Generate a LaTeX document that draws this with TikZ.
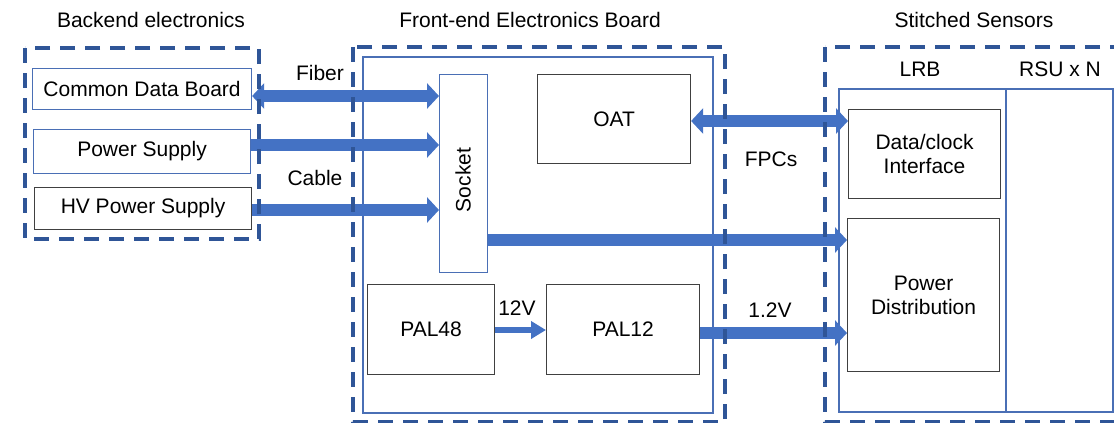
\documentclass[tikz,border=0pt]{standalone}
\usepackage{fontspec}
\setmainfont{Liberation Sans}
\usetikzlibrary{arrows.meta}
\definecolor{dashblue}{HTML}{2F5597}
\definecolor{arrblue}{HTML}{4472C4}
\definecolor{thinblue}{HTML}{4A6FB5}
\definecolor{darkline}{HTML}{404040}
\tikzset{
  lbl/.style={font=\fontsize{21}{25}\selectfont, text=black, inner sep=0pt},
  bluebox/.style={draw=thinblue, line width=1.1pt, anchor=north west, inner sep=0pt, font=\fontsize{21}{25}\selectfont, align=center},
  darkbox/.style={draw=darkline, line width=1.1pt, anchor=north west, inner sep=0pt, font=\fontsize{21}{25}\selectfont, align=center},
  group/.style={draw=dashblue, line width=4pt, dash pattern=on 15pt off 10pt},
  bigarrow/.style={draw=arrblue, line width=12pt, -{Triangle[length=12pt,width=25pt]}},
  bigdouble/.style={draw=arrblue, line width=12pt, {Triangle[length=12pt,width=25pt]}-{Triangle[length=12pt,width=25pt]}},
  smallarrow/.style={draw=arrblue, line width=6pt, -{Triangle[length=15pt,width=17pt]}},
}
\begin{document}
\begin{tikzpicture}[x=1pt,y=-1pt]
\useasboundingbox (0,0) rectangle (1114,423);
\clip (0,0) rectangle (1114,423);
% titles
\node[lbl] (tback) at (151,20) {Backend electronics};
\node[lbl] (tfront) at (530,20) {Front-end Electronics Board};
\node[lbl] (tstitch) at (974,20) {Stitched Sensors};
% inner board and sensor areas
\draw[thinblue, line width=1.1pt] (363,57) rectangle (713,413);
\draw[thinblue, line width=1.1pt] (839,89) rectangle (1006,412);
\draw[thinblue, line width=1.1pt] (1006,89) rectangle (1113,412);
\node[lbl] (lrb) at (920,69) {LRB};
\node[lbl] (rsu) at (1060,69) {RSU x N};
% boxes
\node[bluebox, minimum width=219pt, minimum height=41pt] (cdb) at (32,68) {Common Data Board};
\node[bluebox, minimum width=217pt, minimum height=44pt] (ps) at (33,129) {Power Supply};
\node[darkbox, minimum width=217pt, minimum height=42pt] (hv) at (34,187) {HV Power Supply};
\node[bluebox, minimum width=48pt, minimum height=198pt] (socket) at (439,74) {};
\node[lbl, rotate=90] (sockettext) at (463,180) {Socket};
\node[darkbox, minimum width=153pt, minimum height=89pt] (oat) at (537,74) {OAT};
\node[darkbox, minimum width=127pt, minimum height=90pt] (pal48) at (367,284) {PAL48};
\node[darkbox, minimum width=153pt, minimum height=90pt] (pal12) at (546,284) {PAL12};
\node[darkbox, minimum width=152pt, minimum height=89pt] (dc) at (848,109) {Data/clock\\[-1pt]Interface};
\node[darkbox, minimum width=152pt, minimum height=153pt] (pd) at (847,218) {Power\\[-1pt]Distribution};
% level coordinates
\coordinate (y96) at (0,96);
\coordinate (y145) at (0,145);
\coordinate (y210) at (0,210);
\coordinate (y240) at (0,240);
\coordinate (y121) at (0,121);
\coordinate (y333) at (0,333);
\coordinate (y330) at (0,330);
% arrows
\draw[bigdouble] (cdb.east |- y96) -- (socket.west |- y96);
\draw[bigarrow] (ps.east |- y145) -- (socket.west |- y145);
\draw[bigarrow] (hv.east |- y210) -- (socket.west |- y210);
\draw[bigarrow] (socket.east |- y240) -- (pd.west |- y240);
\draw[bigdouble] (oat.east |- y121) -- (dc.west |- y121);
\draw[bigarrow] (pal12.east |- y333) -- (pd.west |- y333);
\draw[smallarrow] (pal48.east |- y330) -- (pal12.west |- y330);
% connector labels
\node[lbl] (fiber) at (320,73) {Fiber};
\node[lbl] (cable) at (315,178) {Cable};
\node[lbl] (fpcs) at (771,159) {FPCs};
\node[lbl] (v12) at (770,310) {1.2V};
\node[lbl] (v12b) at (517,308) {12V};
% dashed groups
\draw[group] (25,48) rectangle (259,239);
\draw[group] (353,47) rectangle (725,422);
\draw[group] (825,47) rectangle (1125,422);
\end{tikzpicture}
\end{document}
